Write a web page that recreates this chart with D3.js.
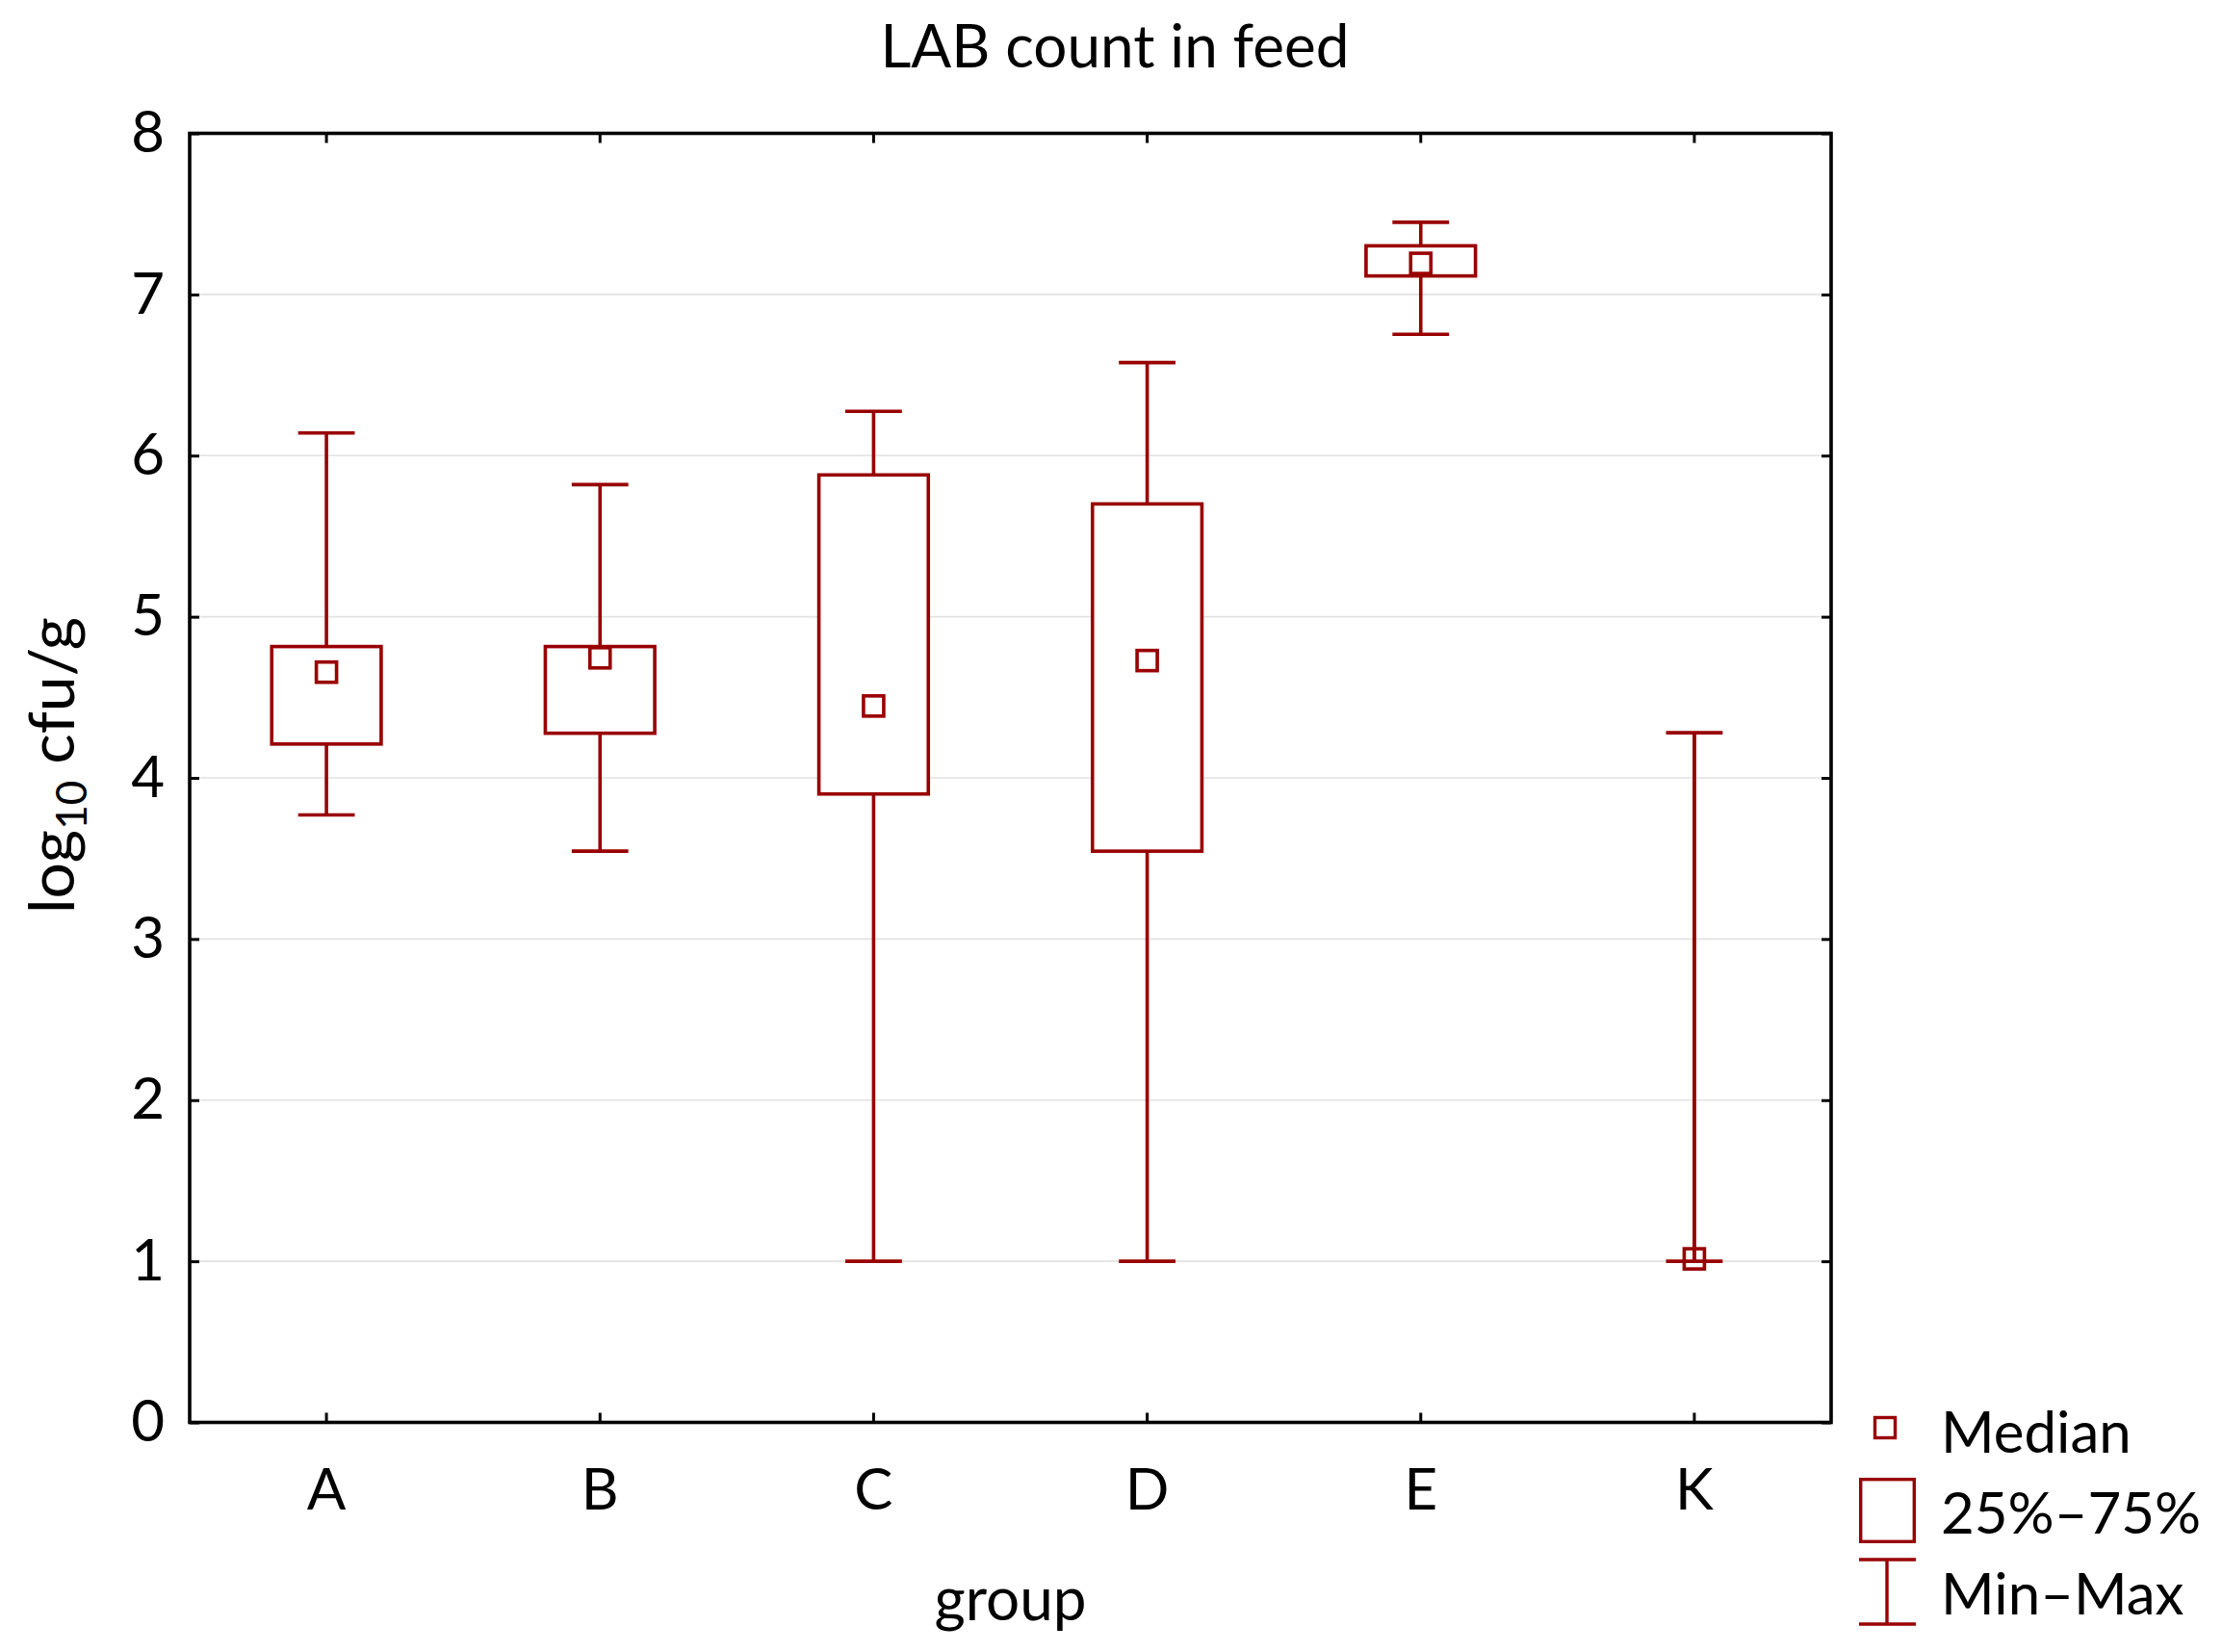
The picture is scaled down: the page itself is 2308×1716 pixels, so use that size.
<!DOCTYPE html>
<html>
<head>
<meta charset="utf-8">
<script src="https://cdn.jsdelivr.net/npm/d3@7"></script>
<style>
  html, body { margin: 0; padding: 0; background: #fff; }
  svg { display: block; }
  text { font-family: Lato, "Open Sans", sans-serif; fill: #000; }
</style>
</head>
<body>
<svg id="chart" width="2308" height="1716"></svg>
<script>
const categories = ["A", "B", "C", "D", "E", "K"];
const minVals    = [3.77, 3.545, 1.0, 1.0, 6.753, 1.0];
const q1Vals     = [4.21, 4.277, 3.90, 3.545, 7.115, 1.0];
const medianVals = [4.656, 4.745, 4.446, 4.728, 7.193, 1.015];
const q3Vals     = [4.815, 4.815, 5.88, 5.70, 7.302, 1.0];
const maxVals    = [6.14, 5.82, 6.275, 6.577, 7.448, 4.28];
const yTicks = [0, 1, 2, 3, 4, 5, 6, 7, 8];
const titleText = "LAB count in feed";
const xTitle = "group";
const legendLabels = ["Median", "25%–75%", "Min–Max"];

(function () {
const data = categories.map((c, i) => ({
  cat: c, min: minVals[i], q1: q1Vals[i], med: medianVals[i], q3: q3Vals[i], max: maxVals[i]
}));

const RED = "#990000";
const FS = 60;
const pl = 197, pr = 1902, pt = 138.5, pb = 1477.5;

const svg = d3.select("#chart");
const x = d3.scaleBand().domain(categories).range([pl, pr]);
const y = d3.scaleLinear().domain([0, 8]).range([pb, pt]);
const bw = x.bandwidth();
const boxW = bw * 0.4;
const capW = bw * 0.207;
const cx = d => x(d.cat) + bw / 2;

// gridlines
svg.append("g").selectAll("line").data(yTicks.filter(t => t > 0 && t < 8)).join("line")
  .attr("x1", pl).attr("x2", pr)
  .attr("y1", d => y(d)).attr("y2", d => y(d))
  .attr("stroke", "#e2e2e2").attr("stroke-width", 1.6);

// axes
function styleAxis(g) {
  g.select(".domain").remove();
  g.selectAll(".tick line").attr("stroke", "#000").attr("stroke-width", 3);
  g.selectAll(".tick text").style("font-size", FS + "px").style("font-family", "Lato, 'Open Sans', sans-serif");
}
svg.append("g").attr("transform", `translate(${pl},0)`)
  .call(d3.axisLeft(y).tickValues(yTicks).tickFormat(d3.format("d")).tickSize(-10).tickPadding(26))
  .call(styleAxis);
svg.append("g").attr("transform", `translate(${pr},0)`)
  .call(d3.axisRight(y).tickValues(yTicks).tickFormat("").tickSize(-10))
  .call(styleAxis);
svg.append("g").attr("transform", `translate(0,${pb})`)
  .call(d3.axisBottom(x).tickSize(-10).tickPadding(48))
  .call(styleAxis);
svg.append("g").attr("transform", `translate(0,${pt})`)
  .call(d3.axisTop(x).tickFormat("").tickSize(-10))
  .call(styleAxis);

// frame
svg.append("rect").attr("x", pl).attr("y", pt)
  .attr("width", pr - pl).attr("height", pb - pt)
  .attr("fill", "none").attr("stroke", "#000").attr("stroke-width", 3.6);

// boxes
const g = svg.append("g").attr("stroke", RED).attr("stroke-width", 3.6);
const grp = g.selectAll("g.box").data(data).join("g").attr("class", "box");
grp.append("line").attr("x1", cx).attr("x2", cx)
  .attr("y1", d => y(d.q3)).attr("y2", d => y(d.max));
grp.append("line").attr("x1", cx).attr("x2", cx)
  .attr("y1", d => y(d.q1)).attr("y2", d => y(d.min));
grp.append("rect")
  .attr("x", d => cx(d) - boxW / 2).attr("width", boxW)
  .attr("y", d => y(d.q3)).attr("height", d => y(d.q1) - y(d.q3))
  .attr("fill", "#fff");
grp.append("line").attr("x1", d => cx(d) - capW / 2).attr("x2", d => cx(d) + capW / 2)
  .attr("y1", d => y(d.max)).attr("y2", d => y(d.max));
grp.append("line").attr("x1", d => cx(d) - capW / 2).attr("x2", d => cx(d) + capW / 2)
  .attr("y1", d => y(d.min)).attr("y2", d => y(d.min));
grp.append("line").attr("x1", cx).attr("x2", cx)
  .attr("y1", d => y(d.max)).attr("y2", d => y(d.min))
  .attr("stroke-opacity", d => d.q1 === d.q3 ? 1 : 0);
grp.append("rect")
  .attr("x", d => cx(d) - 10.5).attr("y", d => y(d.med) - 10.5)
  .attr("width", 21).attr("height", 21).attr("fill", "none");

// titles
svg.append("text").attr("x", 1158).attr("y", 70).attr("text-anchor", "middle")
  .style("font-size", "62px").text(titleText);
svg.append("text").attr("x", (pl + pr) / 2).attr("y", 1683).attr("text-anchor", "middle")
  .style("font-size", "62px").text(xTitle);
const yt = svg.append("text").attr("transform", `translate(77,795) rotate(-90)`)
  .attr("text-anchor", "middle").style("font-size", "66px");
yt.append("tspan").text("log");
yt.append("tspan").attr("dy", 13).style("font-size", "44px").text("10");
yt.append("tspan").attr("dy", -13).text(" cfu/g");

// legend
const lg = svg.append("g");
lg.append("rect").attr("x", 1947.5).attr("y", 1472.5).attr("width", 21).attr("height", 21)
  .attr("fill", "none").attr("stroke", RED).attr("stroke-width", 3.4);
lg.append("rect").attr("x", 1932.7).attr("y", 1536.7).attr("width", 55.6).attr("height", 64.6)
  .attr("fill", "none").attr("stroke", RED).attr("stroke-width", 3.4);
lg.append("line").attr("x1", 1931).attr("x2", 1990).attr("y1", 1620).attr("y2", 1620)
  .attr("stroke", RED).attr("stroke-width", 3.4);
lg.append("line").attr("x1", 1931).attr("x2", 1990).attr("y1", 1687).attr("y2", 1687)
  .attr("stroke", RED).attr("stroke-width", 3.4);
lg.append("line").attr("x1", 1960).attr("x2", 1960).attr("y1", 1620).attr("y2", 1687)
  .attr("stroke", RED).attr("stroke-width", 3.4);
const baselines = [1509, 1593, 1677];
lg.selectAll("text.leg").data(legendLabels).join("text").attr("class", "leg")
  .attr("x", 2016).attr("y", (d, i) => baselines[i])
  .style("font-size", FS + "px").text(d => d);
})();
</script>
</body>
</html>
